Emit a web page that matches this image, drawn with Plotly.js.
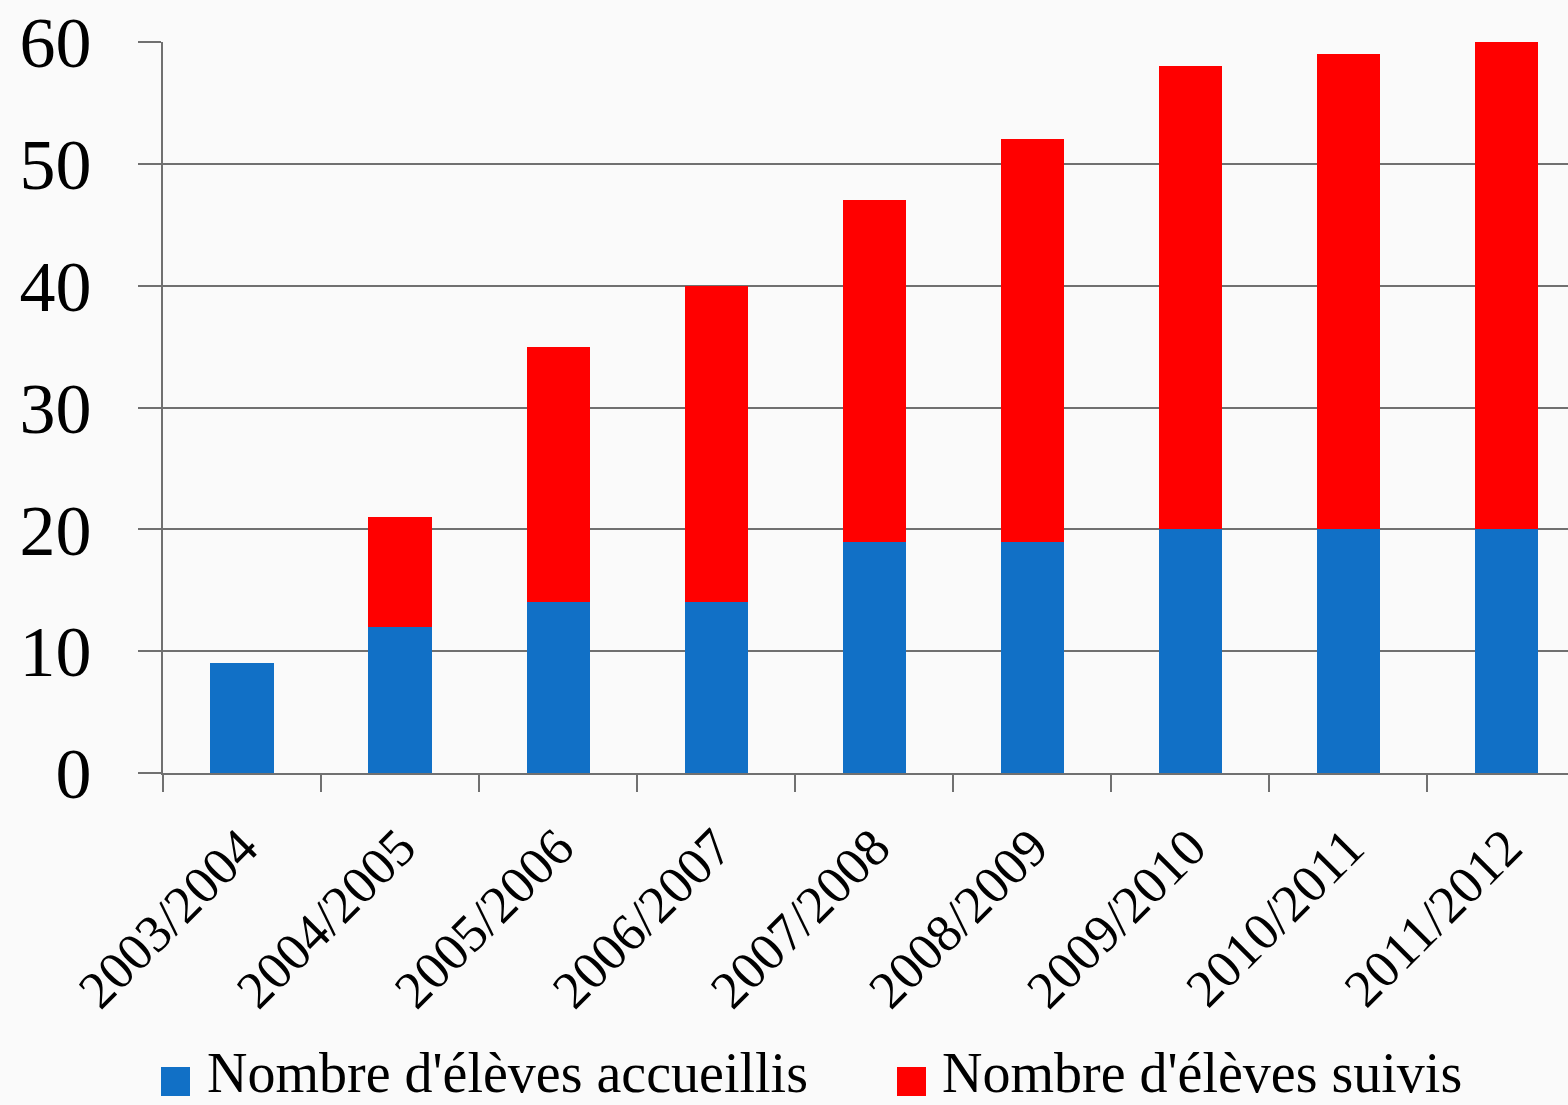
<!DOCTYPE html>
<html>
<head>
<meta charset="utf-8">
<script src="https://cdn.plot.ly/plotly-3.0.1.min.js"></script>
<style>
html,body{margin:0;padding:0;background:#fafafa;overflow:hidden;}
#chart{width:1568px;height:1105px;}
</style>
</head>
<body>
<div id="chart"></div>
<script>
const categories = ["2003/2004","2004/2005","2005/2006","2006/2007","2007/2008","2008/2009","2009/2010","2010/2011","2011/2012"];
const accueillis = [9, 12, 14, 14, 19, 19, 20, 20, 20];
const suivis = [0, 9, 21, 26, 28, 33, 38, 39, 40];
const seriesNames = ["Nombre d'élèves accueillis", "Nombre d'élèves suivis"];
const seriesColors = ["#1170C6", "#FF0000"];
const yTicks = [0, 10, 20, 30, 40, 50, 60];

const traces = [
  {type:'bar', x:categories, y:accueillis, name:seriesNames[0], marker:{color:seriesColors[0], line:{width:0}}, width:0.4, showlegend:false},
  {type:'bar', x:categories, y:suivis, name:seriesNames[1], marker:{color:seriesColors[1], line:{width:0}}, width:0.4, showlegend:false}
];

const W = 1568, H = 1105, L = 163, R = 0, T = 42, B = 1105 - 773;
const plotW = W - L - R, plotH = H - T - B;
const px2x = p => (p - L) / plotW;
const py2y = p => (H - B - p) / plotH;

const legendItems = [
  {sq:[161,190], tx:205},
  {sq:[897,926], tx:940}
];
const shapes = [], annotations = [];
legendItems.forEach((it, i) => {
  shapes.push({type:'rect', xref:'paper', yref:'paper', x0:px2x(it.sq[0]), x1:px2x(it.sq[1]), y0:py2y(1096), y1:py2y(1067), fillcolor:seriesColors[i], line:{width:0}});
  annotations.push({xref:'paper', yref:'paper', x:px2x(it.tx), y:py2y(1073), xanchor:'left', yanchor:'middle', showarrow:false, text:seriesNames[i], font:{family:'Liberation Serif, serif', size:56, color:'#000'}});
});

const layout = {
  width: W, height: H,
  margin: {l:L, r:R, t:T, b:B, pad:0},
  paper_bgcolor: '#fafafa', plot_bgcolor: 'rgba(0,0,0,0)',
  barmode: 'stack',
  font: {family:'Liberation Serif, serif', color:'#000'},
  xaxis: {
    type:'category', range:[-0.5, 8.39],
    showline:true, linecolor:'#707070', linewidth:2,
    ticks:'outside', tickson:'boundaries', ticklen:17, tickwidth:2, tickcolor:'#707070',
    tickangle:-45, tickfont:{family:'Liberation Serif, serif', size:53, color:'#000'},
    ticklabelstandoff: 20,
    showgrid:false, zeroline:false
  },
  yaxis: {
    range:[0, 60], tickvals:yTicks, ticktext:yTicks.map(String),
    showline:true, linecolor:'#707070', linewidth:2,
    ticks:'outside', ticklen:23, tickwidth:2, tickcolor:'#707070',
    showgrid:true, gridcolor:'#707070', gridwidth:2,
    zeroline:false,
    tickfont:{family:'Liberation Serif, serif', size:72, color:'#000'},
    ticklabelstandoff: 32
  },
  shapes: shapes,
  annotations: annotations
};

Plotly.newPlot('chart', traces, layout, {staticPlot:true, displayModeBar:false});
</script>
</body>
</html>
